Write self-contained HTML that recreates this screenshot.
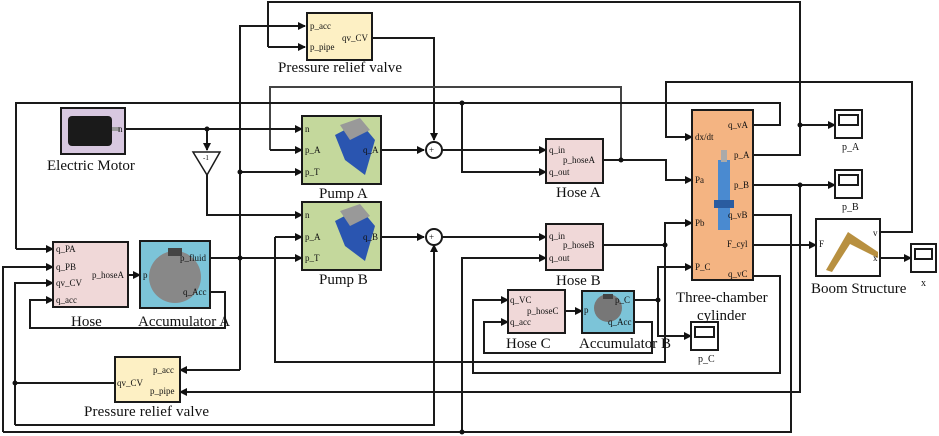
<!DOCTYPE html>
<html><head><meta charset="utf-8"><style>
body{margin:0;background:#fff}
svg{display:block;font-family:"Liberation Serif",serif}
.s{font-size:9px;font-family:"Liberation Serif",serif}
.l{font-size:15px}
</style></head><body>
<svg width="939" height="436" viewBox="0 0 939 436">
<defs><marker id="a" markerWidth="8" markerHeight="8" refX="7" refY="4" orient="auto" markerUnits="userSpaceOnUse"><path d="M0,0L8,4L0,8z" fill="#111"/></marker></defs>
<g fill="none" stroke="#1a1a1a" stroke-width="2">
<path d="M268,47V2H800V155H753"/>
<path d="M268,47H305" marker-end="url(#a)"/>
<path d="M240,370V26H305" marker-end="url(#a)"/>
<path d="M372,38H434V140" marker-end="url(#a)"/>
<path d="M270,150V87H621V160" stroke="#444"/>
<path d="M270,150H302" marker-end="url(#a)"/>
<path d="M16,249V103H780V125H753"/>
<path d="M16,249H53" marker-end="url(#a)"/>
<path d="M462,103V172H546" marker-end="url(#a)"/>
<path d="M125,129H302" marker-end="url(#a)"/>
<path d="M207,129V150" marker-end="url(#a)"/>
<path d="M207,175V215H302" marker-end="url(#a)"/>
<path d="M240,172H302" marker-end="url(#a)"/>
<path d="M381,150H424" marker-end="url(#a)"/>
<path d="M442,150H546" marker-end="url(#a)"/>
<path d="M381,237H424" marker-end="url(#a)"/>
<path d="M442,237H546" marker-end="url(#a)"/>
<path d="M603,160H666V180H692" marker-end="url(#a)"/>
<path d="M603,245H665V223H692" marker-end="url(#a)"/>
<path d="M275,237V362H665V245"/>
<path d="M275,237H302" marker-end="url(#a)"/>
<path d="M210,258H302" marker-end="url(#a)"/>
<path d="M128,275H140" marker-end="url(#a)"/>
<path d="M210,292H225V328H30V300H53" marker-end="url(#a)"/>
<path d="M3,432V267H53" marker-end="url(#a)"/>
<path d="M15,425V283H53" marker-end="url(#a)"/>
<path d="M15,425H434V245" marker-end="url(#a)"/>
<path d="M115,383H15"/>
<path d="M240,370H180" marker-end="url(#a)"/>
<path d="M800,185V392H180" marker-end="url(#a)"/>
<path d="M3,432H791V215H753"/>
<path d="M462,432V258H546" marker-end="url(#a)"/>
<path d="M753,276H780V373H473V300H508" marker-end="url(#a)"/>
<path d="M634,322H652V353H484V322H508" marker-end="url(#a)"/>
<path d="M565,311H582" marker-end="url(#a)"/>
<path d="M634,300H658V267H692" marker-end="url(#a)"/>
<path d="M658,300V336H691" marker-end="url(#a)"/>
<path d="M800,125H835" marker-end="url(#a)"/>
<path d="M753,185H835" marker-end="url(#a)"/>
<path d="M753,245H816" marker-end="url(#a)"/>
<path d="M880,232H912V82H666V137H692" marker-end="url(#a)"/>
<path d="M880,258H911" marker-end="url(#a)"/>
</g>
<g fill="#111">
<circle cx="207" cy="129" r="2.5"/><circle cx="240" cy="172" r="2.5"/><circle cx="240" cy="258" r="2.5"/>
<circle cx="462" cy="103" r="2.5"/><circle cx="621" cy="160" r="2.5"/><circle cx="800" cy="125" r="2.5"/>
<circle cx="800" cy="185" r="2.5"/><circle cx="665" cy="245" r="2.5"/><circle cx="658" cy="300" r="2.5"/>
<circle cx="15" cy="383" r="2.5"/><circle cx="462" cy="432" r="2.5"/>
</g>
<g stroke="#1a1a1a" stroke-width="2">
<rect x="307" y="13" width="65" height="47" fill="#fdf0c4"/>
<rect x="115" y="357" width="65" height="45" fill="#fdf0c4"/>
<rect x="61" y="108" width="64" height="46" fill="#d8c8e0"/>
<rect x="302" y="116" width="79" height="68" fill="#c4d89c"/>
<rect x="302" y="202" width="79" height="68" fill="#c4d89c"/>
<rect x="546" y="139" width="57" height="44" fill="#f0d8d8"/>
<rect x="546" y="224" width="57" height="46" fill="#f0d8d8"/>
<rect x="53" y="242" width="75" height="65" fill="#f0d8d8"/>
<rect x="508" y="290" width="57" height="43" fill="#f0d8d8"/>
<rect x="140" y="241" width="70" height="67" fill="#7cc4d8"/>
<rect x="582" y="291" width="52" height="42" fill="#7cc4d8"/>
<rect x="692" y="110" width="61" height="170" fill="#f4b482"/>
<rect x="816" y="219" width="64" height="57" fill="#fff"/>
<rect x="835" y="110" width="27" height="28" fill="#fff"/><rect x="839" y="115" width="19" height="10" fill="#fff"/>
<rect x="835" y="170" width="27" height="28" fill="#fff"/><rect x="839" y="175" width="19" height="10" fill="#fff"/>
<rect x="911" y="244" width="25" height="28" fill="#fff"/><rect x="915" y="249" width="17" height="10" fill="#fff"/>
<rect x="691" y="322" width="27" height="28" fill="#fff"/><rect x="695" y="327" width="19" height="10" fill="#fff"/>
<circle cx="434" cy="150" r="8" fill="#fff"/><circle cx="434" cy="237" r="8" fill="#fff"/>
<path d="M193,152H220L207,175Z" fill="#fff" stroke-width="1.5"/>
</g>
<rect x="68" y="116" width="44" height="30" rx="4" fill="#1a1a1a"/><rect x="112" y="127" width="8" height="4" fill="#999"/>
<path d="M345,160L335,135L360,122L375,140L365,175Z" fill="#2a55b0"/><path d="M340,125L360,118L370,130L350,140Z" fill="#999"/>
<path d="M345,246L335,221L360,208L375,226L365,261Z" fill="#2a55b0"/><path d="M340,211L360,204L370,216L350,226Z" fill="#999"/>
<ellipse cx="175" cy="277" rx="26" ry="26" fill="#888"/><rect x="168" y="248" width="14" height="8" fill="#444"/>
<ellipse cx="608" cy="308" rx="14" ry="14" fill="#777"/><rect x="603" y="294" width="10" height="5" fill="#444"/>
<path d="M718,160h12v70h-12z" fill="#4a8ad0"/><rect x="714" y="200" width="20" height="8" fill="#2a5ca0"/><rect x="721" y="150" width="6" height="12" fill="#aaa"/>
<path d="M826,270L848,232L878,252L878,258L850,244L832,272Z" fill="#b89040"/>
<g class="s" fill="#111">
<text x="310" y="29">p_acc</text><text x="310" y="50">p_pipe</text><text x="342" y="41">qv_CV</text>
<text x="153" y="373">p_acc</text><text x="150" y="394">p_pipe</text><text x="117" y="386">qv_CV</text>
<text x="118" y="132">n</text>
<text x="305" y="132">n</text><text x="305" y="153">p_A</text><text x="305" y="175">p_T</text><text x="363" y="153">q_A</text>
<text x="305" y="218">n</text><text x="305" y="240">p_A</text><text x="305" y="261">p_T</text><text x="363" y="240">q_B</text>
<text x="549" y="153">q_in</text><text x="563" y="163">p_hoseA</text><text x="549" y="175">q_out</text>
<text x="549" y="239">q_in</text><text x="563" y="248">p_hoseB</text><text x="549" y="261">q_out</text>
<text x="56" y="252">q_PA</text><text x="56" y="270">q_PB</text><text x="56" y="286">qv_CV</text><text x="56" y="303">q_acc</text><text x="92" y="278">p_hoseA</text>
<text x="143" y="278">p</text><text x="180" y="261">p_fluid</text><text x="183" y="295">q_Acc</text>
<text x="510" y="303">q_VC</text><text x="527" y="314">p_hoseC</text><text x="510" y="325">q_acc</text>
<text x="584" y="313">p</text><text x="615" y="303">p_C</text><text x="608" y="325">q_Acc</text>
<text x="695" y="140">dx/dt</text><text x="695" y="183">Pa</text><text x="695" y="226">Pb</text><text x="695" y="270">P_C</text>
<text x="728" y="128">q_vA</text><text x="734" y="158">p_A</text><text x="734" y="188">p_B</text><text x="728" y="218">q_vB</text><text x="727" y="247">F_cyl</text><text x="728" y="277">q_vC</text>
<text x="819" y="247">F</text><text x="873" y="236">v</text><text x="873" y="261">x</text>
<text x="203" y="160" font-size="7">-1</text>
<text x="429" y="153">+</text><text x="429" y="240">+</text>
</g>
<g class="l" fill="#111">
<text x="278" y="72" textLength="124">Pressure relief valve</text>
<text x="47" y="170">Electric Motor</text>
<text x="319" y="198">Pump A</text>
<text x="319" y="284">Pump B</text>
<text x="556" y="197">Hose A</text>
<text x="556" y="285">Hose B</text>
<text x="71" y="326">Hose</text>
<text x="138" y="326">Accumulator A</text>
<text x="506" y="348">Hose C</text>
<text x="579" y="348">Accumulator B</text>
<text x="676" y="302">Three-chamber</text>
<text x="697" y="320">cylinder</text>
<text x="811" y="293">Boom Structure</text>
<text x="84" y="416" textLength="125">Pressure relief valve</text>
</g>
<g class="s" fill="#111" style="font-size:10px">
<text x="842" y="150">p_A</text><text x="842" y="210">p_B</text><text x="698" y="362">p_C</text><text x="921" y="286">x</text>
</g>
</svg>
</body></html>
